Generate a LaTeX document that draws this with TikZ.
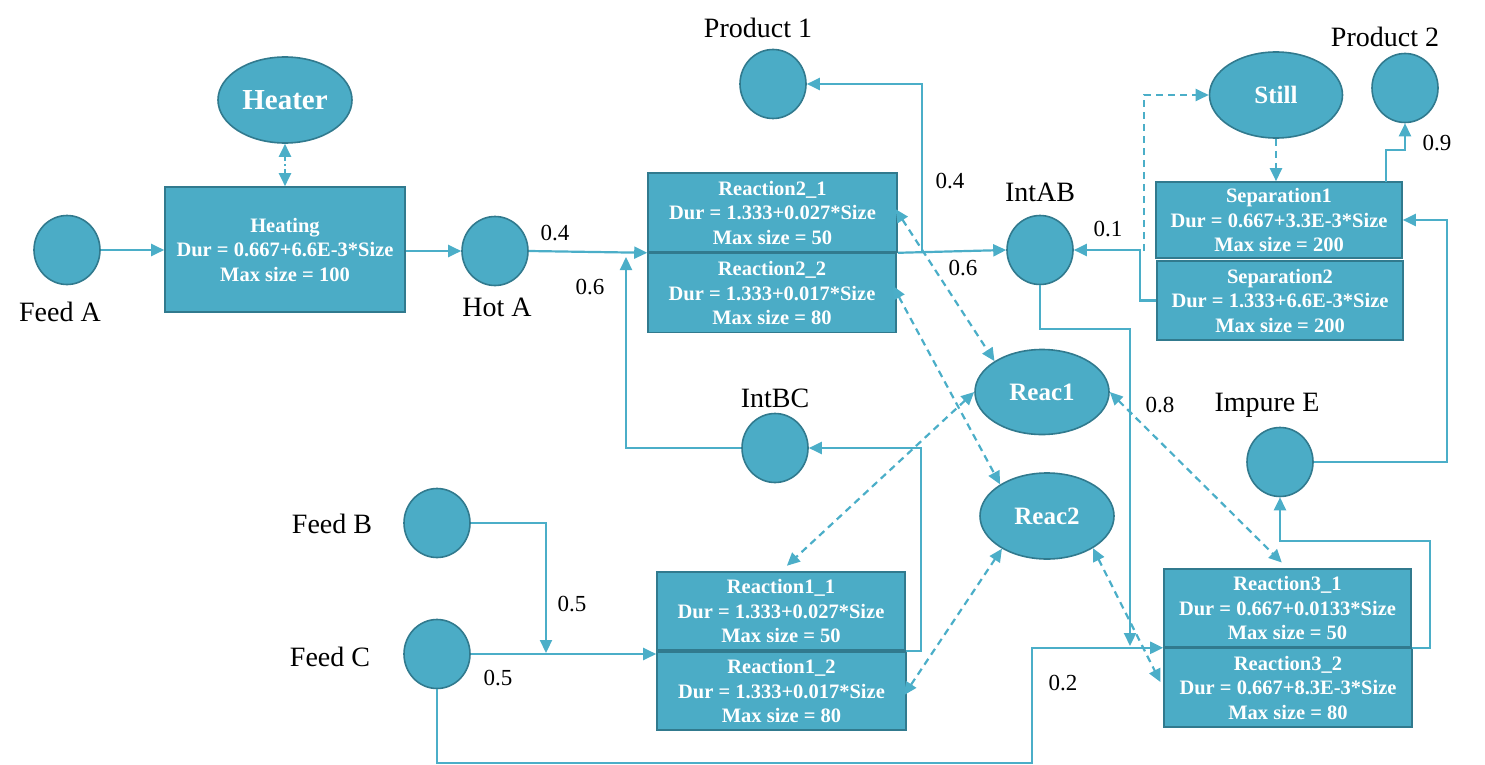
\documentclass[tikz,border=0pt]{standalone}
\usepackage{fontspec}
\setmainfont{Liberation Serif}
\usetikzlibrary{arrows.meta,shapes.geometric}
\definecolor{aqua}{RGB}{75,172,198}
\definecolor{aquadark}{RGB}{49,122,142}
\definecolor{lineaqua}{RGB}{75,174,200}
\begin{document}
\begin{tikzpicture}[x=1pt,y=-1pt,
  tank/.style={ellipse, fill=aqua, draw=aquadark, line width=1.6pt, minimum width=66pt, minimum height=69pt, inner sep=0pt},
  unit/.style={ellipse, fill=aqua, draw=aquadark, line width=1.6pt, minimum width=134pt, minimum height=86pt, inner sep=0pt, text=white, font=\fontsize{25}{26}\selectfont\bfseries},
  task/.style={rectangle, fill=aqua, draw=aquadark, line width=1.6pt, minimum width=248pt, minimum height=79pt, inner sep=0pt, text=white, align=center, font=\fontsize{20.5}{24.5}\selectfont\bfseries},
  lbl/.style={font=\fontsize{28}{30}\selectfont, inner sep=0pt},
  num/.style={font=\fontsize{23}{25}\selectfont, inner sep=0pt},
  flow/.style={draw=lineaqua, line width=2.2pt, -{Triangle[length=13pt,width=12pt]}},
  link/.style={draw=lineaqua, line width=2.2pt, dash pattern=on 7pt off 5pt, {Triangle[length=13pt,width=12pt]}-{Triangle[length=13pt,width=12pt]}},
  dlink/.style={draw=lineaqua, line width=2.2pt, dash pattern=on 7pt off 5pt, -{Triangle[length=13pt,width=12pt]}},
  ddlink/.style={draw=lineaqua, line width=2.2pt, dash pattern=on 5pt off 3pt on 1.5pt off 3pt, {Triangle[length=13pt,width=12pt]}-{Triangle[length=13pt,width=12pt]}},
]
\useasboundingbox (0,0) rectangle (1485,765);

% units (ellipses)
\node[unit, font=\fontsize{29}{31}\selectfont\bfseries] (Heater) at (285,100) {Heater};
\node[unit, minimum width=133pt] (Still) at (1276,95) {Still};
\node[unit, minimum height=85pt] (Reac1) at (1042,392) {Reac1};
\node[unit] (Reac2) at (1047,516) {Reac2};

% tanks (circles)
\node[tank] (FeedA) at (67,250) {};
\node[tank] (HotA) at (495,251) {};
\node[tank] (Product1) at (773,84) {};
\node[tank] (IntAB) at (1040,250) {};
\node[tank] (Product2) at (1405,88) {};
\node[tank] (IntBC) at (775,448) {};
\node[tank] (FeedB) at (437,523) {};
\node[tank] (FeedC) at (437,654) {};
\node[tank] (ImpureE) at (1280,462) {};

% tasks (boxes)
\node[task, minimum width=240pt, minimum height=125pt] (Heating) at (285,249.5) {Heating\\Dur = 0.667+6.6E-3*Size\\Max size = 100};
\node[task, minimum width=249pt] (R21) at (772.5,212.5) {Reaction2\_1\\Dur = 1.333+0.027*Size\\Max size = 50};
\node[task] (R22) at (772,293) {Reaction2\_2\\Dur = 1.333+0.017*Size\\Max size = 80};
\node[task, minimum width=246pt, minimum height=76pt] (Sep1) at (1279,220) {Separation1\\Dur = 0.667+3.3E-3*Size\\Max size = 200};
\node[task, minimum width=246pt] (Sep2) at (1280,300.5) {Separation2\\Dur = 1.333+6.6E-3*Size\\Max size = 200};
\node[task, minimum height=78pt] (R11) at (781,611) {Reaction1\_1\\Dur = 1.333+0.027*Size\\Max size = 50};
\node[task, minimum width=249pt, minimum height=78pt] (R12) at (781.5,691) {Reaction1\_2\\Dur = 1.333+0.017*Size\\Max size = 80};
\node[task, minimum width=247pt, minimum height=78pt] (R31) at (1287.5,608) {Reaction3\_1\\Dur = 0.667+0.0133*Size\\Max size = 50};
\node[task] (R32) at (1288,687.5) {Reaction3\_2\\Dur = 0.667+8.3E-3*Size\\Max size = 80};

% name labels
\node[lbl] (lFeedA) at (60,312) {Feed A};
\node[lbl] (lHotA) at (497,307) {Hot A};
\node[lbl] (lProduct1) at (758,28) {Product 1};
\node[lbl] (lIntAB) at (1040,192) {IntAB};
\node[lbl] (lProduct2) at (1385,37) {Product 2};
\node[lbl] (lIntBC) at (775,398) {IntBC};
\node[lbl] (lFeedB) at (332,524) {Feed B};
\node[lbl] (lFeedC) at (330,657) {Feed C};
\node[lbl] (lImpureE) at (1267,405) {Impure E};

% number labels
\node[num] (n1) at (555,233) {0.4};
\node[num] (n2) at (590,287) {0.6};
\node[num] (n3) at (950,181) {0.4};
\node[num] (n4) at (963,268) {0.6};
\node[num] (n5) at (1108,229) {0.1};
\node[num] (n6) at (1437,143) {0.9};
\node[num] (n7) at (1160,405) {0.8};
\node[num] (n8) at (572,604) {0.5};
\node[num] (n9) at (498,678) {0.5};
\node[num] (n10) at (1063,683) {0.2};

% junction coordinates
\coordinate (jBC) at (626,257);
\coordinate (j1) at (922,252);
\coordinate (j2) at (1144,251);
\coordinate (j3) at (1386,182);
\coordinate (j4) at (1130,646);
\coordinate (j5) at (546,653);

% solid flows
\draw[flow] (FeedA.east) -- (FeedA.east -| Heating.west);
\draw[flow] (Heating.east |- HotA.west) -- (HotA.west);
\draw[flow] (HotA.east) -- (R21.south west);
\draw[flow] (IntBC.west) -| (jBC);
\draw[flow] (R21.south east) -- (IntAB.west);
\draw[flow] (j1) |- (Product1.east);
\draw[flow] (Sep2.west) -- ++(-16,0) |- (IntAB.east);
\draw[flow] (j3) -- ++(0,-32) -| (Product2.south);
\draw[flow] (ImpureE.east) -- ++(133,0) |- (Sep1.east);
\draw[flow] (IntAB.south) |- (1130,329) -- (j4);
\draw[flow] (R11.south east) -- ++(15,0) |- (IntBC.east);
\draw[flow] (FeedB.east) -| (j5);
\draw[flow] (FeedC.east) -- (FeedC.east -| R11.west);
\draw[flow] (FeedC.south) |- (1032,763) |- (R31.south west);
\draw[flow] (R31.south east) -- ++(18,0) -- ++(0,-107) -| (ImpureE.south);

% dashed links
\draw[ddlink] (Heater.south) -- (Heating.north);
\draw[dlink] (j2) |- (Still.west);
\draw[dlink] (Still.south) -- (Sep1.north -| Still.south);
\draw[link, shorten <=-4pt] (R21.east) -- (Reac1.147);
\draw[link, shorten <=-8pt] (R22.east) -- (Reac2.146);
\draw[link, shorten >=8pt] (Reac1.west) -- (R11.north);
\draw[link, shorten >=-5pt] (Reac2.216) -- (R12.east);
\draw[link, shorten >=8pt] (Reac1.east) -- (R31.north);
\draw[link, shorten >=6pt] (Reac2.325) -- (R32.west);
\end{tikzpicture}
\end{document}
